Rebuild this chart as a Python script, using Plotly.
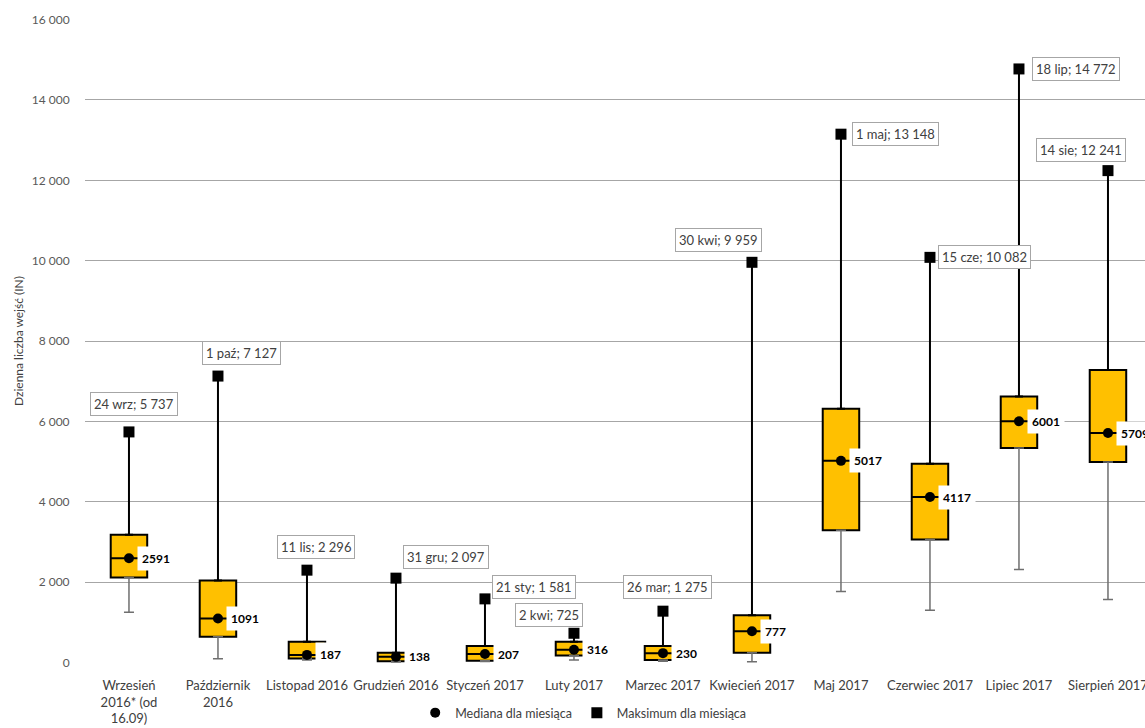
import plotly.graph_objects as go

# dane (dzienna liczba wejść)
months = ["Wrzesień<br>2016* (od<br>16.09)", "Październik<br>2016", "Listopad 2016",
          "Grudzień 2016", "Styczeń 2017", "Luty 2017", "Marzec 2017", "Kwiecień 2017",
          "Maj 2017", "Czerwiec 2017", "Lipiec 2017", "Sierpień 2017"]
q1 = [2112, 638, 95, 30, 42, 174, 58, 240, 3288, 3056, 5334, 4986]
median = [2591, 1091, 187, 138, 207, 316, 230, 777, 5017, 4117, 6001, 5709]
q3 = [3180, 2037, 514, 240, 406, 514, 406, 1176, 6311, 4944, 6617, 7280]
low = [1250, 92, 60, 10, 20, 58, 30, 15, 1764, 1300, 2311, 1565]
max_val = [5737, 7127, 2296, 2097, 1581, 725, 1275, 9959, 13148, 10082, 14772, 12241]
max_day = ["24 wrz", "1 paź", "11 lis", "31 gru", "21 sty", "2 kwi", "26 mar",
           "30 kwi", "1 maj", "15 cze", "18 lip", "14 sie"]

# przesunięcia etykiet maksimum (px)
label_dx = [5, 24, 9, 50, 49, -25, 5, -33, 55, 55, 57, -27]
label_dy = [28, 23, 23, 21, 12, 18, 24, 22, 0, 0, 0, 21]

FONT = "Lato, Open Sans, sans-serif"
YELLOW = "#FFC000"
GRID = "#a6a6a6"

def fmt(v):
    return f"{v:,}".replace(",", " ")

fig = go.Figure()

fig.add_trace(go.Box(
    x=months, q1=q1, median=median, q3=q3, lowerfence=q1, upperfence=q3,
    fillcolor=YELLOW, line=dict(color="black", width=2), width=0.41,
    whiskerwidth=0, showlegend=False, hoverinfo="skip"))

# dolne wąsy (szare)
fig.add_trace(go.Scatter(
    x=months, y=q1, mode="markers", marker=dict(size=0.1, opacity=0),
    error_y=dict(type="data", symmetric=False, array=[0] * len(q1),
                 arrayminus=[a - b for a, b in zip(q1, low)],
                 color="#6f6f6f", thickness=1.5, width=5),
    showlegend=False, hoverinfo="skip"))

fig.add_trace(go.Scatter(
    x=months, y=median, mode="markers", name="Mediana dla miesiąca",
    marker=dict(symbol="circle", size=10, color="black")))

fig.add_trace(go.Scatter(
    x=months, y=max_val, mode="markers", name="Maksimum dla miesiąca",
    marker=dict(symbol="square", size=11, color="black"),
    error_y=dict(type="data", symmetric=False, array=[0] * len(max_val),
                 arrayminus=[a - b for a, b in zip(max_val, q3)],
                 color="black", thickness=2, width=4)))

for i, m in enumerate(months):
    fig.add_annotation(x=m, y=median[i], text=f"<b>{median[i]}</b>", showarrow=False,
                       xanchor="left", yanchor="middle", xshift=8, bgcolor="white",
                       borderpad=4, font=dict(family=FONT, size=12, color="black"))
    fig.add_annotation(x=m, y=max_val[i], text=f"{max_day[i]}; {fmt(max_val[i])}",
                       showarrow=False, xanchor="center", yanchor="middle",
                       xshift=label_dx[i], yshift=label_dy[i], bgcolor="white",
                       bordercolor=GRID, borderwidth=1, borderpad=3,
                       font=dict(family=FONT, size=13, color="#404040"))

fig.add_annotation(xref="paper", yref="paper", x=0, y=0.5, xshift=-67,
                   text="Dzienna liczba wejść (IN)", textangle=-90, showarrow=False,
                   xanchor="center", yanchor="middle",
                   font=dict(family=FONT, size=12, color="#404040"))

fig.update_layout(
    width=1145, height=728, template="none",
    margin=dict(l=85, r=0, t=19, b=65),
    paper_bgcolor="white", plot_bgcolor="white",
    font=dict(family=FONT, size=12, color="#404040"),
    separators=", ",
    legend=dict(orientation="h", x=0.47, xanchor="center", yref="container",
                y=0.0, yanchor="bottom", font=dict(size=12.5, color="#404040"),
                itemwidth=30),
    xaxis=dict(range=[-0.494, 11.416], showgrid=False, zeroline=False, showline=False,
               ticks="outside", ticklen=10, tickcolor="rgba(0,0,0,0)",
               tickfont=dict(size=13, color="#404040"), automargin=False),
    yaxis=dict(range=[-15, 16015], tickvals=list(range(0, 16001, 2000)), tickformat=",d",
               showgrid=True, gridcolor=GRID, gridwidth=1.2, zeroline=False,
               showline=False, ticks="outside", ticklen=12, tickcolor="rgba(0,0,0,0)",
               tickfont=dict(size=12, color="#595959"), automargin=False),
)

# bez domyślnego marginesu strony, żeby wykres zajął całe okno
fig.write_html("out.html", config={"displayModeBar": False},
               post_script="document.body.style.margin='0';document.body.style.overflow='hidden';")
